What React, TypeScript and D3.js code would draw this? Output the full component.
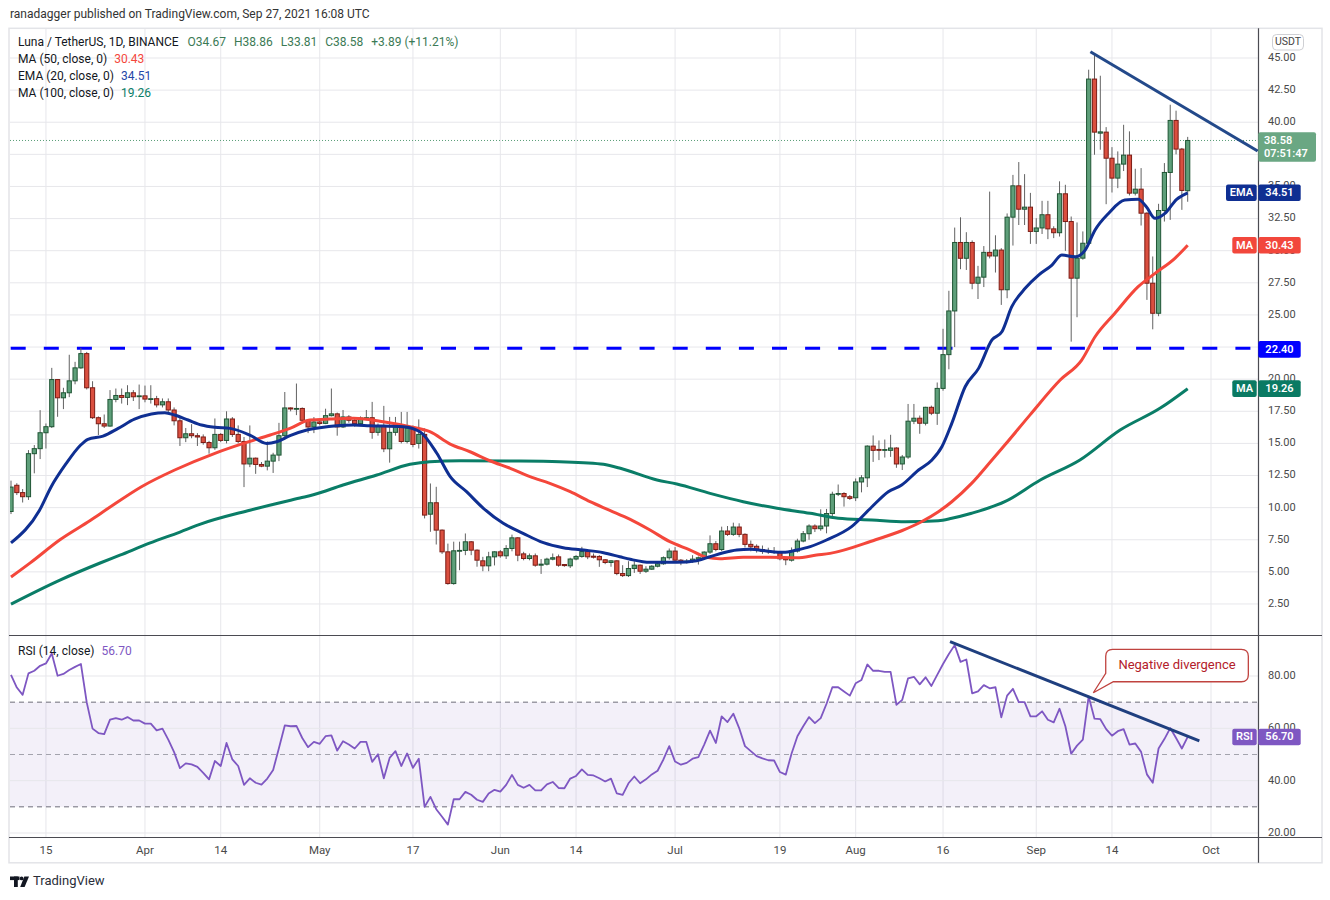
import React from "react";
import * as d3 from "d3";

// ---------------- DATA ----------------
const startDate = "2021-03-09";
const axisEndDate = "2021-10-01";

const opens = [
  9.7, 11.74, 11.17, 10.85, 14.2, 14.59, 15.83, 16.3, 19.97, 18.55,
  18.94, 19.87, 20.88, 21.99, 19.33, 17.0, 16.53, 16.35, 18.42, 18.73,
  18.58, 18.94, 18.65, 18.7, 18.45, 18.48, 18.0, 18.24, 17.6, 16.76,
  15.44, 15.75, 15.6, 15.5, 15.07, 14.66, 15.7, 15.23, 16.9, 15.7,
  15.15, 13.4, 13.85, 13.36, 13.23, 13.62, 14.09, 15.6, 17.76, 17.7,
  17.72, 16.8, 16.28, 16.67, 16.56, 17.16, 17.3, 16.28, 17.06, 16.8,
  16.54, 16.98, 17.0, 15.86, 16.35, 14.58, 15.86, 16.4, 15.15, 16.2,
  15.0, 15.7, 9.49, 10.38, 8.25, 6.56, 4.09, 6.64, 6.67, 7.34,
  6.69, 5.86, 5.47, 6.17, 6.56, 6.25, 6.82, 7.65, 6.4, 6.04,
  6.25, 5.52, 5.6, 5.99, 6.17, 5.57, 5.47, 6.0, 6.2, 6.58,
  6.22, 6.2, 5.94, 5.73, 5.86, 4.87, 4.71, 5.26, 5.52, 5.05,
  5.21, 5.44, 5.63, 6.1, 6.62, 5.91, 5.78, 5.84, 5.99, 6.1,
  6.54, 7.19, 6.74, 8.18, 7.92, 8.49, 7.92, 7.14, 6.99, 6.74,
  6.64, 6.57, 6.56, 6.09, 5.91, 6.62, 7.4, 7.97, 8.57, 8.36,
  8.57, 9.54, 11.04, 11.1, 10.85, 10.77, 12.0, 12.32, 14.79, 14.53,
  14.49, 14.46, 14.64, 13.4, 13.94, 16.73, 16.96, 16.57, 17.81, 17.35,
  19.28, 21.91, 25.31, 30.64, 29.41, 30.64, 27.47, 27.94, 29.87, 29.59,
  30.05, 26.96, 32.61, 35.05, 33.23, 33.39, 31.5, 31.77, 32.8, 31.7,
  31.4, 34.43, 32.27, 27.86, 29.42, 30.58, 43.36, 39.15, 39.23, 37.2,
  35.65, 36.74, 37.44, 34.48, 34.79, 32.92, 27.47, 25.13, 33.13, 36.09,
  40.14, 37.91, 34.67,
];

const highs = [
  12.1, 11.9, 11.45, 14.48, 14.87, 17.59, 16.55, 20.88, 20.0, 19.33,
  21.9, 21.35, 22.43, 22.12, 19.84, 17.1, 17.25, 19.15, 19.27, 19.27,
  19.53, 19.15, 19.58, 19.5, 19.53, 18.7, 18.5, 18.5, 17.8, 17.0,
  16.2, 16.5, 15.8, 15.7, 15.2, 16.94, 15.8, 17.5, 17.05, 16.4,
  15.5, 16.4, 13.9, 13.55, 15.15, 14.27, 16.6, 19.0, 17.8, 19.66,
  17.8, 16.9, 17.05, 16.8, 17.7, 19.27, 17.4, 17.6, 17.2, 17.0,
  17.1, 17.6, 18.23, 16.55, 17.92, 17.06, 17.06, 17.45, 17.45, 16.4,
  16.87, 16.17, 11.88, 11.62, 8.3, 7.2, 7.35, 7.35, 7.99, 7.4,
  6.75, 6.17, 6.56, 6.6, 6.7, 7.08, 7.9, 7.7, 6.56, 6.43,
  6.43, 6.0, 6.1, 6.43, 6.35, 5.6, 6.1, 6.3, 6.95, 6.65,
  6.43, 6.3, 6.0, 5.9, 5.9, 5.52, 5.83, 5.83, 5.57, 5.44,
  5.52, 5.7, 6.2, 6.82, 6.93, 6.0, 6.0, 6.3, 6.2, 6.6,
  7.84, 7.4, 8.52, 8.57, 8.83, 8.78, 8.0, 7.44, 7.14, 7.05,
  6.88, 6.93, 6.6, 6.1, 6.9, 7.58, 8.18, 8.7, 8.7, 9.87,
  9.9, 11.24, 11.8, 11.2, 10.98, 12.27, 12.53, 14.85, 15.62, 15.23,
  15.3, 15.67, 14.7, 14.1, 18.07, 18.07, 17.17, 17.85, 17.94, 19.74,
  23.92, 26.88, 31.8, 32.6, 31.44, 30.8, 28.82, 30.36, 34.6, 31.2,
  30.2, 32.9, 35.9, 36.9, 35.96, 34.5, 32.53, 33.88, 33.88, 31.9,
  35.4, 35.13, 32.66, 32.2, 31.5, 44.09, 45.34, 43.62, 39.62, 38.06,
  37.73, 39.8, 39.29, 36.38, 36.43, 33.0, 29.55, 33.65, 36.82, 41.36,
  40.9, 38.0, 38.86,
];

const lows = [
  9.5, 10.98, 10.4, 10.6, 12.67, 13.78, 14.6, 16.2, 17.07, 17.67,
  18.6, 19.6, 20.8, 19.2, 16.9, 15.65, 16.2, 16.3, 18.2, 18.1,
  17.98, 18.3, 17.67, 18.2, 18.1, 17.8, 17.8, 17.3, 16.4, 14.8,
  15.1, 15.4, 14.8, 14.9, 14.2, 14.5, 15.1, 15.0, 15.5, 15.0,
  11.6, 13.15, 12.63, 13.15, 12.9, 12.7, 13.62, 15.5, 17.5, 17.2,
  16.7, 15.8, 15.8, 16.4, 16.5, 17.1, 15.6, 16.2, 16.6, 16.3,
  16.4, 16.8, 15.36, 15.6, 14.32, 13.5, 15.6, 15.0, 15.0, 14.7,
  14.6, 9.16, 8.12, 7.13, 6.4, 4.0, 4.0, 5.13, 6.3, 6.3,
  5.4, 5.05, 5.05, 5.5, 6.1, 6.0, 6.6, 5.83, 5.9, 5.9,
  5.4, 4.84, 5.5, 5.9, 5.4, 5.4, 5.3, 5.9, 6.1, 5.99,
  6.04, 5.39, 5.6, 5.4, 4.74, 4.6, 4.6, 4.92, 4.84, 4.92,
  5.15, 5.35, 5.55, 5.95, 5.7, 5.52, 5.65, 5.7, 5.57, 6.0,
  6.4, 6.6, 6.62, 7.8, 7.8, 7.7, 6.9, 6.6, 6.5, 6.4,
  6.4, 6.4, 5.9, 5.52, 5.8, 6.5, 7.3, 7.5, 8.1, 8.2,
  8.0, 9.18, 10.9, 10.08, 10.6, 10.51, 11.19, 11.6, 13.56, 13.7,
  13.9, 13.95, 13.1, 12.93, 13.8, 16.5, 15.75, 16.4, 17.2, 16.44,
  19.1, 20.77, 22.5, 28.56, 28.5, 27.0, 26.24, 27.17, 29.4, 28.3,
  25.78, 26.3, 30.4, 32.0, 32.0, 30.53, 30.53, 31.3, 30.9, 30.98,
  31.1, 29.99, 22.92, 24.82, 29.3, 30.5, 37.47, 37.86, 33.62, 34.53,
  34.87, 36.2, 34.3, 34.3, 31.96, 26.17, 23.88, 24.9, 32.27, 32.4,
  37.5, 33.18, 33.81,
];

const closes = [
  11.6, 11.17, 10.85, 14.2, 14.59, 15.83, 16.3, 19.97, 18.55, 18.94,
  19.87, 20.88, 21.99, 19.33, 17.0, 16.53, 16.35, 18.42, 18.73, 18.58,
  18.94, 18.63, 18.7, 18.45, 18.48, 18.0, 18.24, 17.6, 16.76, 15.44,
  15.75, 15.6, 15.5, 15.07, 14.66, 15.7, 15.23, 16.9, 15.7, 15.15,
  13.4, 13.85, 13.36, 13.23, 13.62, 14.09, 15.6, 17.76, 17.68, 17.72,
  16.8, 16.28, 16.67, 16.55, 17.16, 17.3, 16.28, 17.06, 16.8, 16.54,
  16.98, 17.0, 15.86, 16.35, 14.58, 15.86, 16.4, 15.15, 16.2, 14.92,
  15.7, 9.42, 10.38, 8.25, 6.56, 4.09, 6.64, 6.67, 7.34, 6.69,
  5.91, 5.47, 6.17, 6.56, 6.25, 6.82, 7.65, 6.3, 6.04, 6.25,
  5.52, 5.6, 5.99, 6.1, 5.52, 5.49, 6.0, 6.2, 6.58, 6.17,
  6.14, 5.94, 5.73, 5.86, 4.87, 4.71, 5.26, 5.52, 5.05, 5.21,
  5.44, 5.63, 6.1, 6.62, 5.91, 5.78, 5.84, 5.99, 6.1, 6.54,
  7.19, 6.74, 8.18, 7.92, 8.49, 7.92, 7.14, 6.95, 6.7, 6.6,
  6.57, 6.52, 6.02, 5.94, 6.62, 7.4, 7.97, 8.57, 8.36, 8.57,
  9.54, 11.04, 11.1, 10.85, 10.72, 12.0, 12.32, 14.79, 14.46, 14.46,
  14.52, 14.64, 13.4, 13.94, 16.73, 16.96, 16.57, 17.81, 17.35, 19.28,
  21.91, 25.31, 30.64, 29.41, 30.64, 27.47, 27.94, 29.87, 29.59, 30.05,
  26.96, 32.61, 35.05, 33.23, 33.39, 31.5, 31.77, 32.8, 31.7, 31.4,
  34.43, 32.27, 27.86, 29.42, 30.58, 43.36, 39.23, 39.25, 37.2, 35.65,
  36.74, 37.44, 34.48, 34.79, 32.92, 27.47, 25.13, 33.13, 36.09, 40.14,
  37.91, 34.69, 38.58,
];

const rsiValues = [
  80.4, 75.6, 72.8, 81.0, 82.0, 83.9, 84.8, 88.6, 80.1, 80.8,
  82.3, 83.5, 84.6, 69.9, 59.9, 58.2, 57.8, 63.3, 63.9, 63.3,
  64.3, 63.0, 63.0, 61.8, 61.8, 59.2, 59.9, 55.7, 50.9, 44.8,
  46.6, 46.2, 45.3, 43.0, 40.5, 47.5, 45.6, 54.4, 48.1, 45.6,
  38.4, 40.9, 39.2, 38.5, 40.8, 44.1, 52.5, 61.1, 60.8, 60.9,
  56.3, 52.8, 54.8, 54.1, 57.0, 57.3, 51.5, 55.1, 53.8, 52.3,
  54.8, 54.8, 47.2, 50.1, 40.9, 48.7, 51.3, 45.6, 50.4, 44.9,
  48.4, 30.0, 33.8, 29.1, 26.2, 23.2, 32.9, 32.9, 35.7, 34.6,
  32.7, 31.9, 35.1, 36.5, 35.8, 38.4, 42.2, 38.4, 37.3, 38.4,
  36.3, 36.3, 38.6, 39.5, 37.2, 37.1, 40.8, 41.8, 44.3, 42.2,
  42.0, 40.9, 39.7, 40.8, 35.1, 34.6, 39.0, 41.6, 39.0, 40.5,
  42.4, 43.8, 48.1, 53.2, 47.3, 46.1, 46.8, 48.4, 49.0, 53.8,
  59.1, 54.4, 64.6, 62.4, 65.6, 60.1, 53.2, 51.3, 49.4, 48.5,
  47.8, 47.7, 43.3, 42.3, 50.4, 57.0, 60.8, 64.3, 62.0, 63.9,
  69.4, 75.7, 75.7, 74.1, 72.5, 77.2, 78.5, 84.4, 82.0, 82.0,
  81.6, 81.6, 69.0, 70.9, 79.1, 79.7, 76.8, 79.5, 76.2, 80.4,
  84.6, 88.4, 91.8, 85.4, 86.3, 73.4, 74.1, 76.5, 75.3, 75.7,
  64.2, 72.5, 75.1, 70.0, 70.0, 64.6, 64.6, 66.5, 63.3, 62.3,
  67.5, 60.8, 50.3, 53.4, 55.7, 72.2, 63.7, 63.5, 59.7, 57.2,
  58.9, 59.7, 53.8, 54.2, 51.0, 42.4, 39.2, 52.3, 55.9, 60.1,
  56.3, 52.3, 56.7,
];

// moving averages (day offset from start, value)
const ema20Days = [0, 4.9, 6.9, 9.5, 11.8, 13.2, 15.8, 18.4, 21.2, 24.1, 26.4, 28.1, 30.4, 32.7, 35, 37.6, 41, 43.9, 45.6, 47.9, 50.8, 53, 55.9, 58.8, 61.6, 67.3, 70.2, 73.1, 75.4, 78.2, 81.1, 84.5, 87.9, 91.4, 94.8, 98.3, 101.7, 104.5, 106.3, 109.7, 114.3, 117.7, 120, 122.3, 124.6, 126.9, 129.7, 132.6, 134.9, 137.2, 140, 144.3, 147.8, 150.6, 152.9, 155.8, 158.1, 159.8, 161.5, 163.8, 166.1, 168.4, 170.1, 171.8, 174.1, 176.4, 178.7, 180.4, 182.7, 184.4, 186.1, 188.4, 191.2, 193.5, 194.9, 196.4, 198.1, 200.1, 202];
const ema20Values = [7.25, 9.8, 11.63, 13.45, 14.8, 15.32, 15.57, 16.17, 16.88, 17.29, 17.39, 17.21, 16.82, 16.43, 16.25, 16.17, 15.65, 15.0, 15.13, 15.6, 16.04, 16.22, 16.38, 16.43, 16.38, 16.3, 15.91, 14.23, 12.41, 11.24, 9.95, 8.78, 8.0, 7.27, 6.88, 6.7, 6.49, 6.18, 5.98, 5.74, 5.74, 5.87, 6.18, 6.49, 6.7, 6.76, 6.62, 6.52, 6.7, 6.96, 7.48, 8.52, 10.07, 11.24, 11.76, 12.93, 13.71, 14.74, 16.56, 19.41, 20.84, 23.05, 23.69, 25.64, 27.07, 28.1, 28.88, 29.66, 29.53, 30.05, 31.61, 32.9, 33.94, 34.0, 33.42, 32.52, 32.9, 34.0, 34.51];

const ma50Days = [0, 3.3, 8.4, 13.6, 16.7, 22.4, 28.1, 35, 39.9, 44.5, 47.9, 51.3, 54.8, 58.8, 63.9, 68.5, 71.9, 75.4, 78.8, 82.2, 85.7, 89.1, 92.5, 96, 99.4, 102.8, 106.3, 109.7, 113.1, 116.6, 119.4, 121.7, 125.7, 130.3, 134.9, 138.3, 140.6, 148.3, 152.9, 156.3, 159.2, 161.5, 164.9, 168.4, 170.6, 174.9, 180.1, 183.8, 186.1, 189.5, 193.5, 196.4, 199.8, 202];
const ma50Values = [4.6, 5.7, 7.5, 9.0, 9.95, 11.63, 12.93, 14.23, 15.0, 15.65, 16.17, 16.82, 16.9, 16.95, 16.69, 16.3, 15.91, 14.95, 14.35, 13.65, 13.06, 12.41, 11.89, 11.24, 10.46, 9.79, 9.09, 8.26, 7.35, 6.7, 6.13, 6.02, 6.13, 6.13, 6.1, 6.31, 6.44, 7.48, 8.2, 8.9, 9.68, 10.46, 11.89, 13.71, 14.87, 17.2, 19.93, 21.49, 23.3, 25.13, 27.2, 28.24, 29.41, 30.43];

const ma100Days = [0, 8.4, 15.3, 18.7, 23.9, 29, 32.4, 41, 49.6, 51.9, 57, 62.8, 68.5, 71.9, 77.1, 85.7, 94.2, 98.3, 101.7, 104.6, 110.9, 114.3, 120, 125.7, 131.5, 137.2, 142, 147.8, 153.5, 159.2, 161.5, 164.9, 170.6, 176.7, 183.5, 190.4, 197.3, 202];
const ma100Values = [2.49, 4.36, 5.69, 6.3, 7.25, 8.1, 8.7, 9.8, 10.75, 11.0, 11.76, 12.54, 13.37, 13.58, 13.65, 13.63, 13.58, 13.5, 13.37, 13.06, 12.15, 11.84, 11.11, 10.46, 9.95, 9.56, 9.17, 9.04, 8.9, 8.98, 9.17, 9.56, 10.46, 12.15, 13.71, 16.04, 17.75, 19.26];

const trendPriceDays = [185.3, 214.0];
const trendPriceValues = [45.49, 37.76];
const trendRsiDays = [161.2, 204.0];
const trendRsiValues = [93.1, 55.2];
const calloutAnchorDay = 185.8;
const calloutAnchorRsi = 73.6;

const supportLevel = 22.4;
const lastPrice = 38.58;
const countdown = "07:51:47";
const lastEma = 34.51;
const lastMa50 = 30.43;
const lastMa100 = 19.26;
const lastRsi = 56.7;

const priceTicks = [2.5, 5, 7.5, 10, 12.5, 15, 17.5, 20, 22.5, 25, 27.5, 30, 32.5, 35, 37.5, 40, 42.5, 45];
// labels fully hidden behind the price boxes in the reference are not drawn
const priceAxisLabels = [2.5, 5, 7.5, 10, 12.5, 15, 17.5, 20, 25, 27.5, 30, 32.5, 35, 40, 42.5, 45];
const rsiGridTicks = [20, 40, 60, 80];
const rsiAxisLabels = [20, 40, 60, 80];
const rsiLevels = [70, 50, 30];
const timeTickDates = ["2021-03-15", "2021-04-01", "2021-04-14", "2021-05-01", "2021-05-17", "2021-06-01", "2021-06-14", "2021-07-01", "2021-07-19", "2021-08-01", "2021-08-16", "2021-09-01", "2021-09-14", "2021-10-01"];
const timeTickLabels = ["15", "Apr", "14", "May", "17", "Jun", "14", "Jul", "19", "Aug", "16", "Sep", "14", "Oct"];

// ---------------- LAYOUT / STYLE ----------------
const FONT = "Roboto, 'Open Sans', 'Noto Sans', sans-serif";
const PL = 10, PR = 1258, MT = 29, MB = 635, RT = 636, RB = 837;
const UP_FILL = "#5e9f7a", UP_STROKE = "#1f5534";
const DN_FILL = "#da4f3f", DN_STROKE = "#7c1c15";
const WICK = "#626262";
const C_EMA = "#0f2f92", C_MA50 = "#f4473b", C_MA100 = "#0a7d67", C_RSI = "#7e57c2";
const C_TREND = "#23498a";
const C_GREEN_LBL = "#6aa783";
const C_GRID = "#e7e7eb";
const C_AXIS_TXT = "#4a4a4a";

const parse = (s: string) => new Date(s + "T00:00:00Z");
const t0 = parse(startDate).getTime();
const dayToDate = (d: number) => new Date(t0 + d * 86400000);

export default function App() {
  const x = d3.scaleUtc().domain([parse(startDate), parse(axisEndDate)]).range([11, 1211]);
  const yP = d3.scaleLinear().domain([0, 45]).range([636.1, 58]);
  const yR = d3.scaleLinear().domain([20, 80]).range([833, 676]);

  const maLine = d3
    .line<[number, number]>()
    .x((d) => x(dayToDate(d[0])))
    .y((d) => yP(d[1]))
    .curve(d3.curveMonotoneX);
  const emaPath = maLine(ema20Days.map((d, i) => [d, ema20Values[i]]));
  const ma50Path = maLine(ma50Days.map((d, i) => [d, ma50Values[i]]));
  const ma100Path = maLine(ma100Days.map((d, i) => [d, ma100Values[i]]));

  const rsiLine = d3
    .line<number>()
    .x((_, i) => x(dayToDate(i)))
    .y((v) => yR(v));
  const rsiPath = rsiLine(rsiValues);

  const fmt = d3.format(".2f");

  // callout geometry anchored on RSI point
  const ax = x(dayToDate(calloutAnchorDay));
  const ay = yR(calloutAnchorRsi);
  const bx0 = ax + 12.4, bx1 = ax + 155, by0 = ay - 43.4, by1 = ay - 11, r = 7;
  const calloutPath = `M ${bx0 + r},${by0} H ${bx1 - r} Q ${bx1},${by0} ${bx1},${by0 + r} V ${by1 - r} Q ${bx1},${by1} ${bx1 - r},${by1} H ${bx0 + 7.6} L ${ax},${ay} L ${bx0},${by1 - 8.4} V ${by0 + r} Q ${bx0},${by0} ${bx0 + r},${by0} Z`;

  const yLast = yP(lastPrice);

  const valueBox = (y: number, color: string, value: string, name?: string, nameW = 24.4) => (
    <g>
      {name && (
        <>
          <rect x={1256.7 - nameW} y={y - 8.3} width={nameW} height={16.6} rx={2} fill={color} />
          <text x={1256.7 - nameW / 2} y={y + 0.5} fill="#fff" fontSize={11} fontWeight={600} textAnchor="middle" dominantBaseline="middle">{name}</text>
        </>
      )}
      <rect x={1258.3} y={y - 8.3} width={42.4} height={16.6} rx={2} fill={color} />
      <text x={1279.5} y={y + 0.5} fill="#fff" fontSize={11} fontWeight={600} textAnchor="middle" dominantBaseline="middle">{value}</text>
    </g>
  );

  return (
    <svg width={1330} height={900} style={{ position: "absolute", left: 0, top: 0, background: "#fff" }} fontFamily={FONT}>
      <defs>
        <clipPath id="clipMain">
          <rect x={PL} y={MT} width={PR - PL} height={MB - MT} />
        </clipPath>
        <clipPath id="clipRsi">
          <rect x={PL} y={RT} width={PR - PL} height={RB - RT} />
        </clipPath>
      </defs>
      <rect x={0} y={0} width={1330} height={900} fill="#fff" />

      <text x={10} y={18} fontSize={12} fill="#333">ranadagger published on TradingView.com, Sep 27, 2021 16:08 UTC</text>

      {/* frame */}
      <rect x={9} y={28.3} width={1313} height={834.5} fill="none" stroke="#e3e4e8" strokeWidth={1.5} />

      {/* vertical grid */}
      {timeTickDates.map((d, i) => (
        <line key={"vg" + i} x1={x(parse(d))} x2={x(parse(d))} y1={MT} y2={RB} stroke={C_GRID} strokeWidth={1} />
      ))}

      {/* horizontal grid main */}
      {priceTicks.map((p) => (
        <line key={"hg" + p} x1={PL} x2={PR} y1={yP(p)} y2={yP(p)} stroke={C_GRID} strokeWidth={1} />
      ))}

      {/* RSI band & grid */}
      <rect x={PL} y={yR(70)} width={PR - PL} height={yR(30) - yR(70)} fill="#7e57c2" fillOpacity={0.09} />
      {rsiGridTicks.map((v) => (
        <line key={"rg" + v} x1={PL} x2={PR} y1={yR(v)} y2={yR(v)} stroke={C_GRID} strokeWidth={1} />
      ))}
      {rsiLevels.map((v) => (
        <line key={"rl" + v} x1={PL} x2={PR} y1={yR(v)} y2={yR(v)} stroke={v === 50 ? "#a3a3ad" : "#6e6e7a"} strokeWidth={1} strokeDasharray="5 4" />
      ))}

      <g clipPath="url(#clipMain)">
        {/* support */}
        <line x1={10.7} x2={PR} y1={yP(supportLevel)} y2={yP(supportLevel)} stroke="#0000ff" strokeWidth={3} strokeDasharray="15 18.1" />
        {/* last price dotted */}
        <line x1={PL} x2={PR} y1={yLast} y2={yLast} stroke="#5a9e78" strokeWidth={1} strokeDasharray="1 2" />

        {/* candles */}
        {opens.map((o, i) => {
          const c = closes[i];
          const up = c >= o;
          const cx = x(dayToDate(i));
          const yo = yP(o), yc = yP(c);
          const top = Math.min(yo, yc);
          const h = Math.max(Math.abs(yo - yc), 0.8);
          return (
            <g key={"c" + i}>
              <line x1={cx} x2={cx} y1={yP(highs[i])} y2={yP(lows[i])} stroke={WICK} strokeWidth={1} />
              <rect x={cx - 2.1} y={top} width={4.2} height={h} fill={up ? UP_FILL : DN_FILL} stroke={up ? UP_STROKE : DN_STROKE} strokeWidth={1} />
            </g>
          );
        })}

        {/* moving averages */}
        <path d={ma100Path || ""} fill="none" stroke={C_MA100} strokeWidth={3} />
        <path d={ma50Path || ""} fill="none" stroke={C_MA50} strokeWidth={3} />
        <path d={emaPath || ""} fill="none" stroke={C_EMA} strokeWidth={3} />

        {/* trend line */}
        <line
          x1={x(dayToDate(trendPriceDays[0]))}
          y1={yP(trendPriceValues[0])}
          x2={x(dayToDate(trendPriceDays[1]))}
          y2={yP(trendPriceValues[1])}
          stroke={C_TREND}
          strokeWidth={3}
        />
      </g>

      <g clipPath="url(#clipRsi)">
        <path d={rsiPath || ""} fill="none" stroke={C_RSI} strokeWidth={1.8} strokeLinejoin="round" />
        <line
          x1={x(dayToDate(trendRsiDays[0]))}
          y1={yR(trendRsiValues[0])}
          x2={x(dayToDate(trendRsiDays[1]))}
          y2={yR(trendRsiValues[1])}
          stroke="#1f3f7f"
          strokeWidth={3}
        />
        <path d={calloutPath} fill="#fff" stroke="#c0433f" strokeWidth={1.3} />
        <text x={(bx0 + bx1) / 2} y={(by0 + by1) / 2 + 0.5} fontSize={13} fill="#b3202a" textAnchor="middle" dominantBaseline="middle">Negative divergence</text>
      </g>

      {/* pane separators & axes */}
      <line x1={9} x2={1322} y1={635.5} y2={635.5} stroke="#4b4b52" strokeWidth={1.2} />
      <line x1={9} x2={1322} y1={837.5} y2={837.5} stroke="#4b4b52" strokeWidth={1.2} />
      <line x1={1258.5} x2={1258.5} y1={28.3} y2={862.8} stroke="#4b4b52" strokeWidth={1.2} />

      {/* headers */}
      <text x={18} y={46} fontSize={12} fill="#131722">
        <tspan>Luna / TetherUS, 1D, BINANCE</tspan>
        <tspan dx={9} fill="#3b7a55">O34.67</tspan>
        <tspan dx={8} fill="#3b7a55">H38.86</tspan>
        <tspan dx={8} fill="#3b7a55">L33.81</tspan>
        <tspan dx={8} fill="#3b7a55">C38.58</tspan>
        <tspan dx={8} fill="#3b7a55">+3.89 (+11.21%)</tspan>
      </text>
      <text x={18} y={63} fontSize={12} fill="#131722">
        <tspan>MA (50, close, 0)</tspan>
        <tspan dx={7} fill={C_MA50}>{fmt(lastMa50)}</tspan>
      </text>
      <text x={18} y={80} fontSize={12} fill="#131722">
        <tspan>EMA (20, close, 0)</tspan>
        <tspan dx={7} fill="#2346a8">{fmt(lastEma)}</tspan>
      </text>
      <text x={18} y={96.5} fontSize={12} fill="#131722">
        <tspan>MA (100, close, 0)</tspan>
        <tspan dx={7} fill={C_MA100}>{fmt(lastMa100)}</tspan>
      </text>
      <text x={18} y={655} fontSize={12} fill="#131722">
        <tspan>RSI (14, close)</tspan>
        <tspan dx={7} fill={C_RSI}>{fmt(lastRsi)}</tspan>
      </text>

      {/* price axis labels */}
      {priceAxisLabels.map((p) => (
        <text key={"pt" + p} x={1268} y={yP(p)} fontSize={11} fill={C_AXIS_TXT} dominantBaseline="middle">{fmt(p)}</text>
      ))}
      {rsiAxisLabels.map((v) => (
        <text key={"ra" + v} x={1268} y={yR(v)} fontSize={11} fill={C_AXIS_TXT} dominantBaseline="middle">{fmt(v)}</text>
      ))}

      {/* USDT box */}
      <rect x={1272.5} y={34.5} width={31} height={15.5} rx={4} fill="#fff" stroke="#cfd0d4" strokeWidth={1} />
      <text x={1288} y={42.6} fontSize={10.5} fill="#444" textAnchor="middle" dominantBaseline="middle">USDT</text>

      {/* last price box */}
      <rect x={1258.3} y={yLast - 8.2} width={57.7} height={29.4} rx={2} fill={C_GREEN_LBL} />
      <text x={1264} y={yLast + 1} fontSize={11} fontWeight={600} fill="#fff" dominantBaseline="middle">{fmt(lastPrice)}</text>
      <text x={1264} y={yLast + 13.2} fontSize={11} fontWeight={600} fill="#fff" dominantBaseline="middle">{countdown}</text>

      {valueBox(yP(lastEma), "#0f2f92", fmt(lastEma), "EMA", 30.7)}
      {valueBox(yP(lastMa50), "#f2473c", fmt(lastMa50), "MA")}
      {valueBox(yP(supportLevel) + 1, "#0000ff", fmt(supportLevel))}
      {valueBox(yP(lastMa100), "#0a7a63", fmt(lastMa100), "MA")}
      {valueBox(yR(lastRsi), C_RSI, fmt(lastRsi), "RSI")}

      {/* time axis labels */}
      {timeTickDates.map((d, i) => (
        <text key={"tl" + i} x={x(parse(d))} y={851} fontSize={11.5} fill={C_AXIS_TXT} textAnchor="middle" dominantBaseline="middle">{timeTickLabels[i]}</text>
      ))}

      {/* logo */}
      <g fill="#131722">
        <rect x={10} y={876.5} width={9.5} height={3.6} />
        <rect x={14} y={876.5} width={3.8} height={10.5} />
        <circle cx={21.6} cy={878.4} r={1.9} />
        <path d="M 24.3 876.5 L 29 876.5 L 24.6 887 L 20.2 887 Z" />
      </g>
      <text x={33} y={882} fontSize={13} fill="#2a2e39" dominantBaseline="middle">TradingView</text>
    </svg>
  );
}
